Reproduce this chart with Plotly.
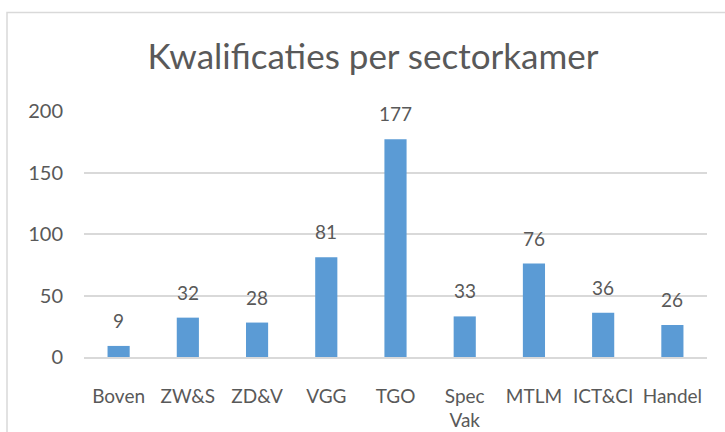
import plotly.graph_objects as go

categories = ["Boven", "ZW&S", "ZD&V", "VGG", "TGO", "Spec<br>Vak", "MTLM", "ICT&CI", "Handel"]
values = [9, 32, 28, 81, 177, 33, 76, 36, 26]
y_ticks = [0, 50, 100, 150, 200]
title_text = "Kwalificaties per sectorkamer"

FONT = "Lato"
TXT = "#595959"
W, H = 725, 432
L, R, T, B = 84, 18, 111, 75
pw, ph = W - L - R, H - T - B

fig = go.Figure()
fig.add_trace(go.Bar(
    x=categories, y=values,
    marker=dict(color="#5B9BD5", line=dict(width=0)),
    width=0.32,
    hoverinfo="x+y",
))

annotations = [
    dict(x=c, y=v, text=str(v), xref="x", yref="y", showarrow=False,
         yanchor="bottom", yshift=12, font=dict(family=FONT, size=19, color=TXT))
    for c, v in zip(categories, values)
]

# chart border (paper coordinates)
bx0 = (7 - L) / pw
by1 = (H - B - 12.5) / ph
fig.add_shape(type="rect", xref="paper", yref="paper",
              x0=bx0, x1=1.2, y0=-0.6, y1=by1,
              line=dict(color="#D9D9D9", width=1.5), fillcolor="rgba(0,0,0,0)", layer="below")

fig.update_layout(
    width=W, height=H,
    margin=dict(l=L, r=R, t=T, b=B, autoexpand=False),
    paper_bgcolor="white", plot_bgcolor="white",
    title=dict(text=title_text, x=(373 - L) / pw, xref="paper", xanchor="center",
               y=1 - 57 / H, yanchor="middle",
               font=dict(family=FONT, size=35, color=TXT)),
    font=dict(family=FONT, color=TXT),
    showlegend=False,
    annotations=annotations,
    xaxis=dict(
        showgrid=False, showline=True, linecolor="#D9D9D9", linewidth=1.5,
        tickfont=dict(family=FONT, size=19, color=TXT),
        ticks="", ticklabelstandoff=21, fixedrange=True,
    ),
    yaxis=dict(
        range=[0, 200], tickvals=y_ticks, showgrid=True, gridcolor="#D9D9D9", gridwidth=1.5,
        zeroline=False, showline=False,
        tickfont=dict(family=FONT, size=20, color=TXT),
        ticks="", ticklabelstandoff=20, fixedrange=True,
    ),
)

fig.write_html(
    "out.html",
    config={"displayModeBar": False},
    post_script="document.body.style.margin='0';document.body.style.overflow='hidden';",
)
